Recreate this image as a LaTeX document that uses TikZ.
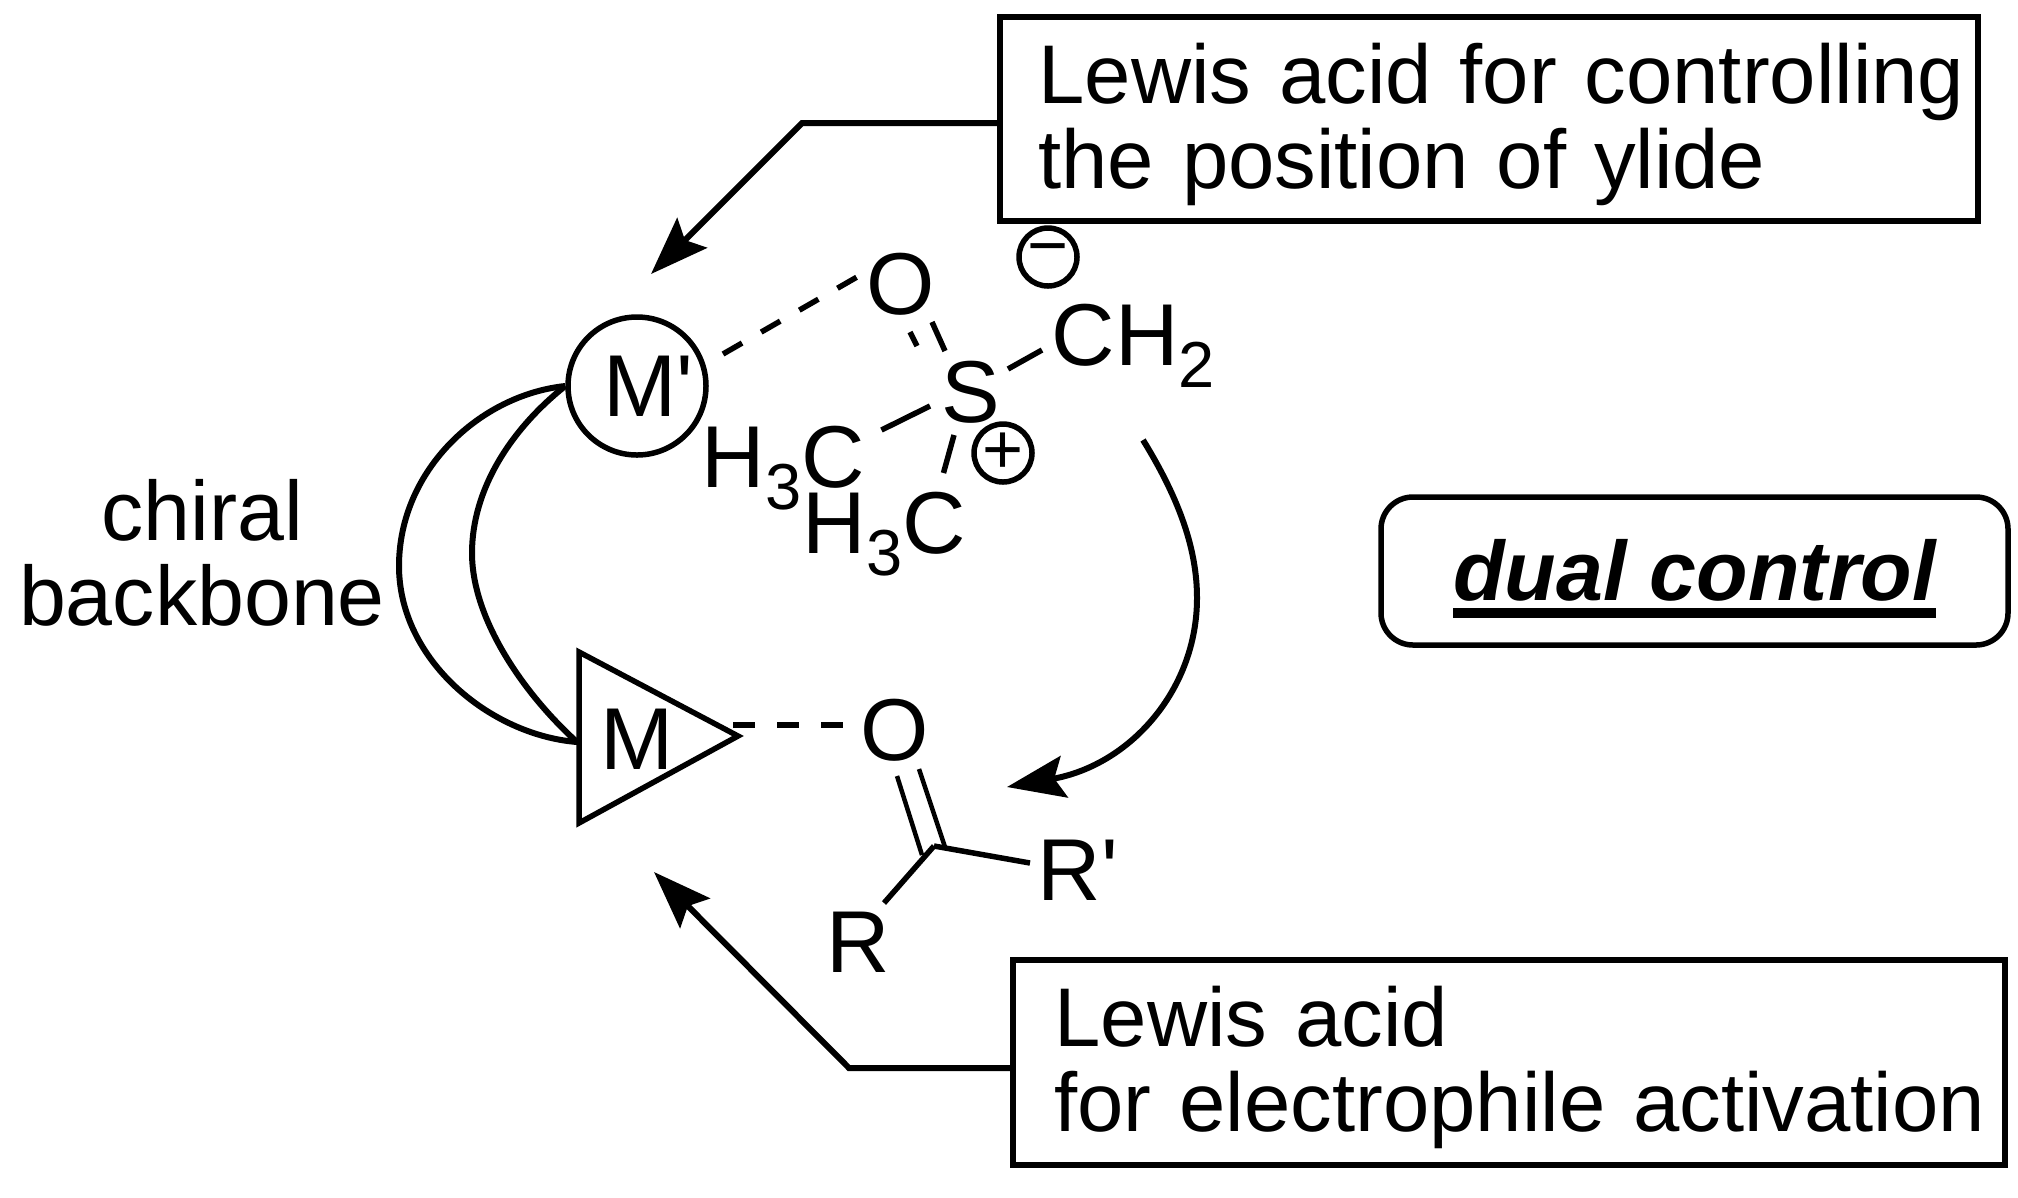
\documentclass[tikz,border=0pt]{standalone}
\usepackage{fontspec}
\setmainfont[Ligatures=TeXOff]{Liberation Sans}
\usetikzlibrary{arrows.meta}
\newcommand{\chemsub}[1]{\raisebox{-0.22cm}{\fontsize{18.5}{20}\selectfont #1}}
\newcommand{\heavyuline}[1]{\setbox0=\hbox{#1}\rlap{\rule[-0.18cm]{\wd0}{0.1cm}}\box0}
\newcommand{\tallline}{\rule{0pt}{0.71cm}}
\begin{document}
\begin{tikzpicture}[
    atom/.style={font=\fontsize{25}{30}\selectfont,inner sep=0pt},
    charge/.style={circle,draw,line width=0.055cm,minimum size=0.58cm,inner sep=0pt,font=\fontsize{20}{24}\selectfont},
    bond/.style={line width=0.055cm},
    thinbond/.style={line width=0.045cm},
    dashbond/.style={line width=0.055cm,dash pattern=on 0.22cm off 0.22cm},
    arc/.style={line width=0.06cm},
    pointer/.style={line width=0.06cm,-{Stealth[length=0.58cm,width=0.42cm,inset=0.1cm]}},
    labelbox/.style={draw,line width=0.055cm,inner ysep=0pt,align=left,font=\fontsize{23.7}{24.2}\selectfont}
  ]
  \useasboundingbox (0,0) rectangle (20.18,-11.97);
  % callout boxes
  \node (lewisA) [labelbox,inner xsep=0.385cm,text width=9.01cm,minimum height=2.04cm] at (14.89,-1.19)
    {\tallline\mbox{Lewis acid for controlling}\\the position of ylide};
  \node (lewisB) [labelbox,inner xsep=0.415cm,text width=9.09cm,minimum height=2.05cm] at (15.09,-10.625)
    {\tallline Lewis acid\\\mbox{for electrophile activation}};
  \node (dual) [draw,line width=0.055cm,rounded corners=0.32cm,minimum width=6.27cm,minimum height=1.48cm,
    text height=0.76cm,text depth=0.18cm,inner sep=0pt,font=\fontsize{24}{29}\selectfont\bfseries\itshape] at (16.945,-5.71)
    {\heavyuline{dual control}};
  \node (backbone) [font=\fontsize{24}{24.2}\selectfont,align=center,inner sep=0pt] at (2.02,-5.53) {chiral\\backbone};
  % metals
  \node (mprime) [circle,draw,line width=0.055cm,minimum size=1.38cm,inner sep=0pt,atom] at (6.37,-3.86) {\hspace*{0.22cm}M'};
  \coordinate (mtop) at (5.79,-6.52);
  \coordinate (mtip) at (7.38,-7.36);
  \coordinate (mbot) at (5.79,-8.23);
  \coordinate (mbase) at (5.77,-7.42);
  \draw[bond] (mtop) -- (mtip) -- (mbot) -- cycle;
  \node (mlabel) [atom] at (6.37,-7.39) {M};
  % chiral backbone arcs
  \draw[arc] (mprime.west) .. controls (4.80,-3.95) and (3.99,-4.70) .. (3.99,-5.66)
    .. controls (3.99,-6.60) and (4.90,-7.35) .. (mbase);
  \draw[arc] (mprime.west) .. controls (5.10,-4.30) and (4.72,-4.90) .. (4.72,-5.53)
    .. controls (4.72,-6.20) and (5.25,-6.95) .. (mbase);
  % ylide
  \node (oxa) [atom] at (9.01,-2.84) {O};
  \node (sulfur) [atom] at (9.71,-3.92) {S};
  \node (ylide) [atom,anchor=base west] at (10.51,-3.65) {CH\chemsub{2}};
  \node (hmeA) [atom,anchor=base west] at (7.01,-4.87) {H\chemsub{3}C};
  \node (hmeB) [atom,anchor=base west] at (8.02,-5.53) {H\chemsub{3}C};
  \node (minus) [charge] at (10.48,-2.57) {−};
  \node (plus) [charge] at (10.03,-4.53) {+};
  \draw[dashbond] ([shift={(0.86,0.32)}]mprime.center) -- ([shift={(-0.44,0.07)}]oxa.center);
  \draw[bond] ([shift={(-0.26,0.41)}]sulfur.center) -- ([shift={(0.31,-0.38)}]oxa.center);
  \draw[bond] ([shift={(-0.54,0.46)}]sulfur.center) -- ([shift={(0.09,-0.48)}]oxa.center);
  \draw[bond] ([shift={(0.37,0.23)}]sulfur.center) -- ([shift={(-0.09,0.15)}]ylide.base west);
  \draw[bond] ([shift={(-0.41,-0.14)}]sulfur.center) -- ([shift={(0.16,0.57)}]hmeA.base east);
  \draw[bond] ([shift={(-0.17,-0.43)}]sulfur.center) -- ([shift={(-0.23,0.80)}]hmeB.base east);
  % carbonyl
  \node (oxb) [atom] at (8.95,-7.30) {O};
  \coordinate (carbonyl) at (9.34,-8.46);
  \node (rprime) [atom] at (10.78,-8.70) {R'};
  \node (rgroup) [atom] at (8.58,-9.42) {R};
  \draw[dashbond] ([shift={(-0.05,0.11)}]mtip) -- ([shift={(-0.40,0.05)}]oxb.center);
  \draw[thinbond] ([shift={(0.02,-0.46)}]oxb.center) -- ([shift={(-0.12,-0.09)}]carbonyl);
  \draw[thinbond] ([shift={(0.24,-0.39)}]oxb.center) -- ([shift={(0.11,-0.01)}]carbonyl);
  \draw[bond] (carbonyl) -- ([shift={(-0.48,0.07)}]rprime.center);
  \draw[bond] (carbonyl) -- ([shift={(0.26,0.39)}]rgroup.center);
  % arrows
  \coordinate (curlstart) at (11.43,-4.40);
  \coordinate (curlbend) at (11.97,-5.98);
  \coordinate (curltip) at (10.07,-7.87);
  \draw[pointer] (curlstart) .. controls (11.80,-5.00) and (11.97,-5.50) .. (curlbend)
    .. controls (11.97,-6.90) and (11.30,-7.65) .. (curltip);
  \coordinate (bendA) at (8.02,-1.23);
  \coordinate (tipA) at (6.51,-2.74);
  \draw[pointer] ([yshift=-0.04cm]lewisA.west) -- (bendA) -- (tipA);
  \coordinate (bendB) at (8.49,-10.68);
  \coordinate (tipB) at (6.54,-8.72);
  \draw[pointer] ([yshift=-0.055cm]lewisB.west) -- (bendB) -- (tipB);
\end{tikzpicture}
\end{document}
